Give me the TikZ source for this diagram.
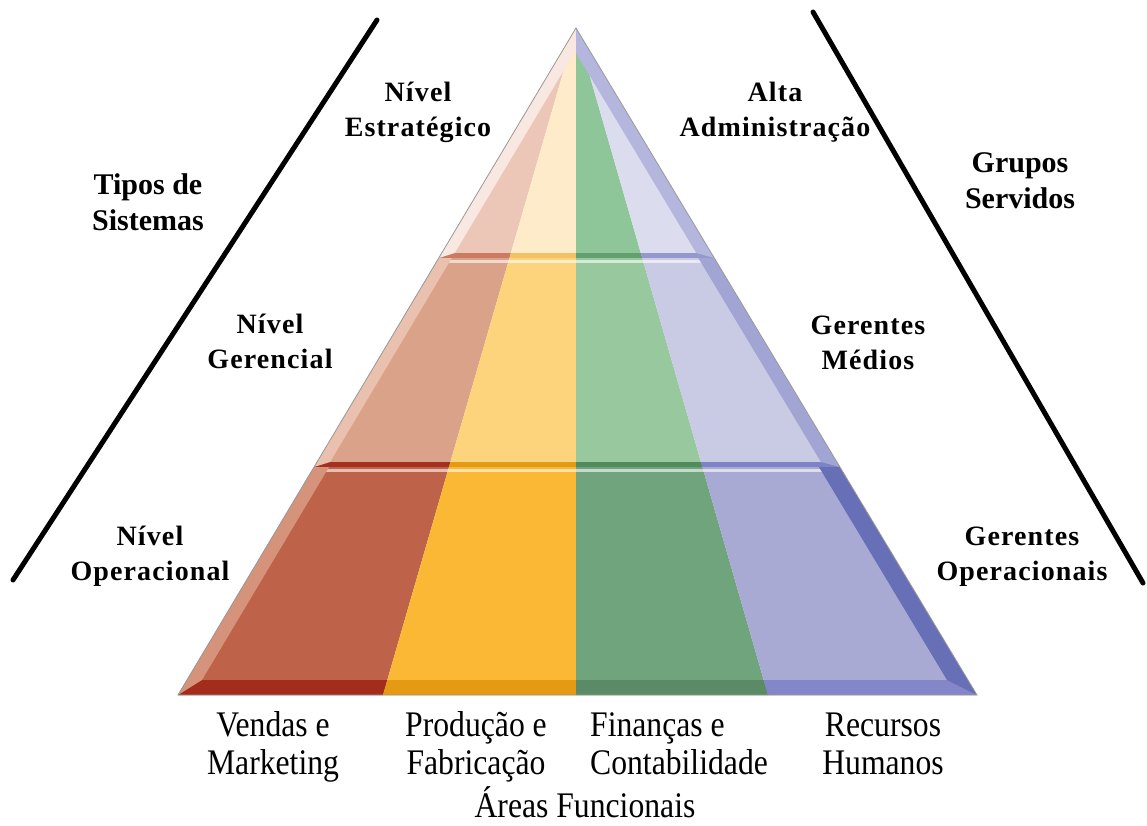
\documentclass[tikz,border=0pt]{standalone}
\usepackage{fontspec}
\setmainfont{Liberation Serif}
\newfontfamily\lvlfont[FakeStretch=1.0,LetterSpace=4]{Liberation Serif}
\newfontfamily\areafont[FakeStretch=0.88]{Liberation Serif}

\definecolor{redA}{HTML}{ECC7B7}
\definecolor{yelA}{HTML}{FEEBCA}
\definecolor{grnA}{HTML}{8FC699}
\definecolor{purA}{HTML}{DBDCEE}
\definecolor{redAd}{HTML}{CD7A63}
\definecolor{yelAd}{HTML}{F3C262}
\definecolor{grnAd}{HTML}{62A06F}
\definecolor{purAd}{HTML}{9498CD}
\definecolor{lbA}{HTML}{F8E8E1}
\definecolor{rbA}{HTML}{B4B6DE}

\definecolor{redB}{HTML}{DBA28A}
\definecolor{yelB}{HTML}{FDD37C}
\definecolor{grnB}{HTML}{98C89D}
\definecolor{purB}{HTML}{C9CAE3}
\definecolor{redBd}{HTML}{A6301F}
\definecolor{yelBd}{HTML}{E19B14}
\definecolor{grnBd}{HTML}{508A5D}
\definecolor{purBd}{HTML}{7F83C5}
\definecolor{lbB}{HTML}{EAC0AE}
\definecolor{rbB}{HTML}{A2A5D3}

\definecolor{redC}{HTML}{BE634A}
\definecolor{yelC}{HTML}{FBB834}
\definecolor{grnC}{HTML}{6FA47D}
\definecolor{purC}{HTML}{A8AAD3}
\definecolor{redCd}{HTML}{A42C1C}
\definecolor{yelCd}{HTML}{E49A12}
\definecolor{grnCd}{HTML}{5B8B66}
\definecolor{purCd}{HTML}{8387C7}
\definecolor{lbC}{HTML}{D6937C}
\definecolor{rbC}{HTML}{6770B7}

\newcommand\pyL[1]{(576-0.5967*((#1)-28))}
\newcommand\pyM[1]{(576-0.2894*((#1)-28))}
\newcommand\pyN[1]{(576+0.2879*((#1)-28))}
\newcommand\pyR[1]{(576+0.6012*((#1)-28))}

% #1 y0, #2 y1, #3 suffix, #4 strip height, #5 left bevel, #6 right bevel, #7 highlight opacity
\newcommand\pyrband[7]{%
 \pgfmathsetmacro\bya{#1}\pgfmathsetmacro\byb{#2}\pgfmathsetmacro\byc{#2-#4}%
 \pgfmathsetmacro\bwL{#5}\pgfmathsetmacro\bwR{#6}%
 \fill[red#3] ({\pyL{\bya}},\bya) -- ({\pyM{\bya}},\bya) -- ({\pyM{\byb}},\byb) -- ({\pyL{\byb}},\byb) -- cycle;
 \fill[yel#3] ({\pyM{\bya}},\bya) -- (576,\bya) -- (576,\byb) -- ({\pyM{\byb}},\byb) -- cycle;
 \fill[grn#3] (576,\bya) -- ({\pyN{\bya}},\bya) -- ({\pyN{\byb}},\byb) -- (576,\byb) -- cycle;
 \fill[pur#3] ({\pyN{\bya}},\bya) -- ({\pyR{\bya}},\bya) -- ({\pyR{\byb}},\byb) -- ({\pyN{\byb}},\byb) -- cycle;
 \fill[red#3d] ({\pyL{\byc}},\byc) -- ({\pyM{\byc}},\byc) -- ({\pyM{\byb}},\byb) -- ({\pyL{\byb}},\byb) -- cycle;
 \fill[yel#3d] ({\pyM{\byc}},\byc) -- (576,\byc) -- (576,\byb) -- ({\pyM{\byb}},\byb) -- cycle;
 \fill[grn#3d] (576,\byc) -- ({\pyN{\byc}},\byc) -- ({\pyN{\byb}},\byb) -- (576,\byb) -- cycle;
 \fill[pur#3d] ({\pyN{\byc}},\byc) -- ({\pyR{\byc}},\byc) -- ({\pyR{\byb}},\byb) -- ({\pyN{\byb}},\byb) -- cycle;
 \fill[white,opacity=#7] ({\pyL{\bya+2}},\bya+2) rectangle ({\pyR{\bya+2}},\bya+5);
 \begin{scope}
  \clip (0,0) rectangle (576,826);
  \fill[lb#3] ({\pyL{\bya}},\bya) -- ({\pyL{\byb}},\byb) -- ({\pyL{\byc}+\bwL},\byc) -- ({\pyL{\bya}+\bwL},\bya) -- cycle;
 \end{scope}
 \begin{scope}
  \clip (576,0) rectangle (1147,826);
  \fill[rb#3] ({\pyR{\bya}},\bya) -- ({\pyR{\byb}},\byb) -- ({\pyR{\byc}-\bwR},\byc) -- ({\pyR{\bya}-\bwR},\bya) -- cycle;
 \end{scope}
}

\tikzset{
  divline/.style={line width=5pt, black, line cap=round},
  lvl/.style={align=center, inner sep=0pt, font=\lvlfont\bfseries\fontsize{28}{35}\selectfont},
  hdr/.style={align=center, inner sep=0pt, font=\bfseries\fontsize{30}{36}\selectfont},
  area/.style={align=center, inner sep=0pt, anchor=north, font=\areafont\fontsize{36}{38}\selectfont},
  outline/.style={draw=gray!80, line width=0.8pt}
}

\begin{document}
\begin{tikzpicture}[x=1pt,y=-1pt]
\useasboundingbox[fill=white] (0,0) rectangle (1147,826);

\coordinate (apex) at (576,28);
\coordinate (bl) at (178,695);
\coordinate (br) at (977,695);

\begin{scope}
  \clip (apex) -- (bl) -- (br) -- cycle;
  \pyrband{28}{258}{A}{5}{13}{15}{0}
  \pyrband{258}{467}{B}{5}{13}{16}{0.6}
  \pyrband{467}{695}{C}{15}{15}{21}{0.6}
\end{scope}
\draw[outline] (apex) -- (bl) -- (br) -- cycle;

% separating lines
\coordinate (la) at (377,20);
\coordinate (lb) at (13,580);
\coordinate (ra) at (813,12);
\coordinate (rb) at (1143,583);
\draw[divline] (la) -- (lb);
\draw[divline] (ra) -- (rb);

% labels
\node[lvl] (strat) at (418,112) {Nível\\Estratégico};
\node[lvl] (alta) at (775,112) {Alta\\Administração};
\node[hdr] (tipos) at (148,202) {Tipos de\\Sistemas};
\node[hdr] (grupos) at (1020,181) {Grupos\\Servidos};
\node[lvl] (ger) at (270,341) {Nível\\Gerencial};
\node[lvl] (med) at (868,343) {Gerentes\\Médios};
\node[lvl] (oper) at (150,556) {Nível\\Operacional};
\node[lvl] (gop) at (1022,557) {Gerentes\\Operacionais};

\node[area] (vend) at (273,710) {\strut Vendas e\\Marketing};
\node[area] (prod) at (476,710) {\strut Produção e\\Fabricação};
\node[area, align=left] (fin) at (679,710) {\strut Finanças e\\Contabilidade};
\node[area] (rh) at (883,710) {\strut Recursos\\Humanos};
\node[area] (areas) at (585,786) {Áreas Funcionais};
\end{tikzpicture}
\end{document}
